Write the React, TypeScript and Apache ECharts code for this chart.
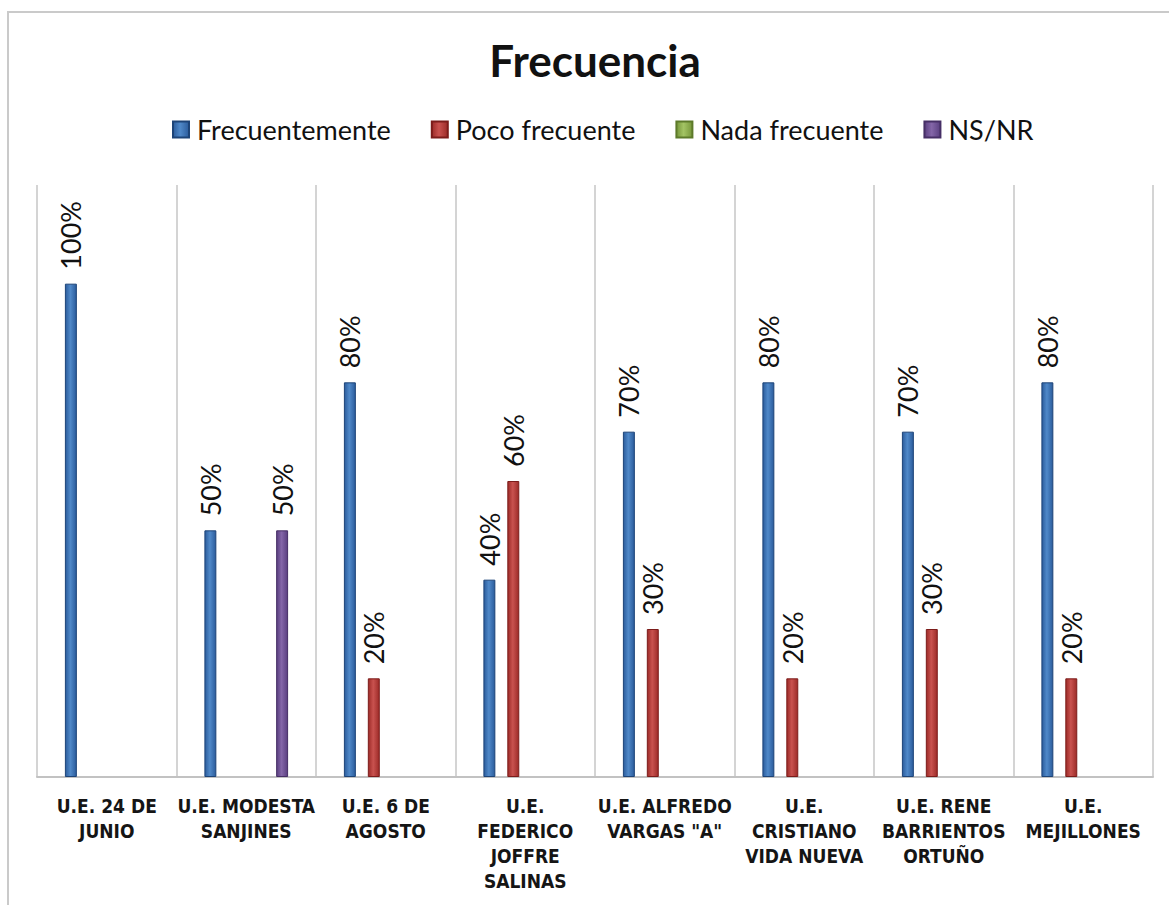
import React, { useEffect, useRef } from "react";
import * as echarts from "echarts";

// Schools (category axis), with their line breaks
const CATEGORIES = [
  "U.E. 24 DE\nJUNIO",
  "U.E. MODESTA\nSANJINES",
  "U.E. 6 DE\nAGOSTO",
  "U.E.\nFEDERICO\nJOFFRE\nSALINAS",
  "U.E. ALFREDO\nVARGAS \"A\"",
  "U.E.\nCRISTIANO\nVIDA NUEVA",
  "U.E. RENE\nBARRIENTOS\nORTUÑO",
  "U.E.\nMEJILLONES",
];

// Percentages per answer
const FRECUENTEMENTE = [100, 50, 80, 40, 70, 80, 70, 80];
const POCO_FRECUENTE = [0, 0, 20, 60, 30, 20, 30, 20];
const NADA_FRECUENTE = [0, 0, 0, 0, 0, 0, 0, 0];
const NS_NR = [0, 50, 0, 0, 0, 0, 0, 0];

const SERIES_NAMES = ["Frecuentemente", "Poco frecuente", "Nada frecuente", "NS/NR"];

// edge, centre, outline colours for the bevelled bars
const PALETTE = [
  ["#2b5c9c", "#5089c9", "#1d4478"],
  ["#9c2b28", "#c9524f", "#7c1c1a"],
  ["#76963a", "#a3c464", "#5d7a2a"],
  ["#5a3f80", "#8466a8", "#462f66"],
];

const W = 1190;
const H = 905;

function bevel(edge: string, mid: string) {
  return new echarts.graphic.LinearGradient(0, 0, 1, 0, [
    { offset: 0, color: edge },
    { offset: 0.45, color: mid },
    { offset: 1, color: edge },
  ]);
}

export default function App() {
  const ref = useRef<HTMLDivElement>(null);

  useEffect(() => {
    if (!ref.current) return;
    const chart = echarts.init(ref.current, null, { renderer: "svg" });
    const values = [FRECUENTEMENTE, POCO_FRECUENTE, NADA_FRECUENTE, NS_NR];

    chart.setOption({
      animation: false,
      backgroundColor: "#ffffff",
      title: {
        text: "Frecuencia",
        left: "center",
        top: 38,
        padding: 0,
        textStyle: {
          fontFamily: "Lato",
          fontWeight: "bold",
          fontSize: 44,
          color: "#111111",
        },
      },
      legend: {
        top: 116,
        left: 172,
        padding: 0,
        itemGap: 40,
        itemWidth: 16,
        itemHeight: 16,
        icon: "rect",
        data: SERIES_NAMES,
        textStyle: {
          fontFamily: "Lato",
          fontSize: 27,
          color: "#111111",
          padding: [0, 0, 0, 3],
        },
      },
      graphic: [
        {
          type: "rect",
          silent: true,
          shape: { x: 8, y: 12, width: 1300, height: 1000 },
          style: { fill: "none", stroke: "#cacaca", lineWidth: 2 },
        },
      ],
      grid: {
        left: 37,
        right: W - 1153,
        top: 185,
        bottom: H - 777,
        containLabel: false,
        outerBoundsMode: "none",
      },
      xAxis: {
        type: "category",
        data: CATEGORIES,
        boundaryGap: true,
        axisTick: { show: false },
        axisLine: { show: true, lineStyle: { color: "#c2c2c2", width: 2 } },
        splitLine: { show: true, lineStyle: { color: "#c6c6c6", width: 1.5 } },
        axisLabel: {
          interval: 0,
          margin: 16,
          fontFamily: "'DejaVu Sans Condensed', 'DejaVu Sans', sans-serif",
          fontWeight: "bold",
          fontSize: 19,
          lineHeight: 25,
          color: "#151515",
        },
      },
      yAxis: {
        type: "value",
        min: 0,
        max: 120,
        interval: 20,
        axisLabel: { show: false },
        axisLine: { show: false },
        axisTick: { show: false },
        splitLine: { show: false },
      },
      series: SERIES_NAMES.map((name, i) => ({
        name,
        type: "bar",
        barGap: "100%",
        barCategoryGap: "40%",
        data: values[i].map((v) => (v === 0 ? null : v)),
        itemStyle: {
          color: bevel(PALETTE[i][0], PALETTE[i][1]),
          borderColor: PALETTE[i][2],
          borderWidth: 1,
        },
        label: {
          show: true,
          position: "top",
          rotate: 90,
          align: "left",
          verticalAlign: "middle",
          distance: 14,
          fontFamily: "Lato",
          fontSize: 27,
          color: "#111111",
          formatter: (p: any) => (p.value ? `${p.value}%` : ""),
        },
      })),
    });

    return () => chart.dispose();
  }, []);

  return (
    <div
      style={{
        position: "absolute",
        left: 0,
        top: 0,
        width: 1169,
        height: H,
        overflow: "hidden",
        background: "#ffffff",
      }}
    >
      <div ref={ref} style={{ width: W, height: H }} />
    </div>
  );
}
